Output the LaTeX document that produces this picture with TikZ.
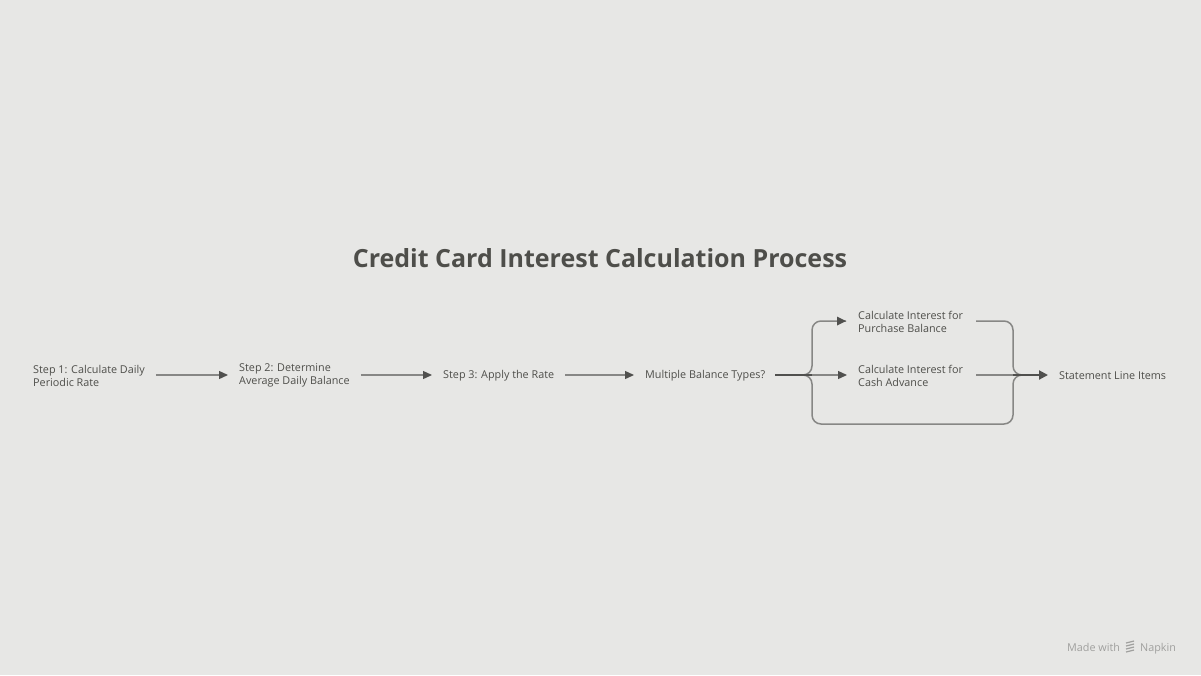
\documentclass[tikz,border=0pt]{standalone}
\usepackage{fontspec}
\setmainfont{Open Sans}
\usepackage{tikz}
\usetikzlibrary{arrows.meta,positioning}
\definecolor{cibg}{RGB}{231,231,229}
\definecolor{citext}{RGB}{78,78,74}
\definecolor{ciline}{RGB}{135,135,133}
\definecolor{cidark}{RGB}{80,80,78}
\definecolor{cilogo}{RGB}{160,160,158}
\tikzset{
  stepnode/.style={anchor=west, inner sep=0pt, align=left, text=citext, font=\fontsize{10.8}{13}\selectfont},
  flow/.style={ciline, line width=1.3pt, -{Triangle[length=9pt,width=8pt,color=cidark]}, shorten <=11pt, shorten >=11pt},
  brace/.style={ciline, line width=1.5pt, rounded corners=9pt},
  thickflow/.style={cidark, line width=2pt},
  footnote/.style={anchor=base west, inner sep=0pt, text=cilogo, font=\fontsize{10.8}{13}\selectfont}
}
\begin{document}
\begin{tikzpicture}[x=1pt, y=-1pt]
\fill[cibg] (0,0) rectangle (1201,675);
\useasboundingbox (0,0) rectangle (1201,675);

% Title
\node[text=citext, font=\fontsize{25}{29}\bfseries] (title) at (600,258) {Credit Card Interest Calculation Process};

% Main steps
\node[stepnode] (step1) at (33,375.5) {Step 1: Calculate Daily\\Periodic Rate};
\node[stepnode] (step2) at (239,375.5) {Step 2: Determine\\Average Daily Balance};
\node[stepnode] (step3) at (443,375.5) {Step 3: Apply the Rate};
\node[stepnode] (multi) at (645,375.5) {Multiple Balance Types?};

% Branches
\node[stepnode] (purch) at (858,321.5) {Calculate Interest for\\Purchase Balance};
\node[stepnode] (cash) at (858,375.5) {Calculate Interest for\\Cash Advance};
\node[stepnode] (stmt) at (1059,375.5) {Statement Line Items};

\coordinate (fork) at (812,375);
\coordinate (join) at (1013,375);

% Connect steps
\draw[flow] (step1.east |- fork) -- (step2.west |- fork);
\draw[flow] (step2.east |- fork) -- (step3.west |- fork);
\draw[flow] (step3.east |- fork) -- (multi.west |- fork);

% Split and merge
\draw[brace] ([xshift=10pt]multi.east |- fork) -| (812,321) -- (846,321);
\draw[brace] ([xshift=10pt]multi.east |- fork) -| (812,424) -| (join) -- (1030,375);
\draw[brace] (976,321) -| (join) -- (1030,375);
\draw[flow, shorten <=0pt] (fork) -- (cash.west |- fork);
\draw[ciline, line width=1.3pt] (976,375) -- (join);
\draw[thickflow] ([xshift=10pt]multi.east |- fork) -- (fork);
\fill[cidark] (846,321) ++(-9,-4.5) -- ++(9,4.5) -- ++(-9,4.5) -- cycle;
\draw[thickflow, -{Triangle[length=9pt,width=9pt]}] (join) -- ([xshift=-11pt]stmt.west |- fork);

% Footer
\node[footnote] (napkin) at (1140,651) {Napkin};
\node[footnote] (made) at (1067,651) {Made with};
\foreach \dy in {-4,-1,2,5}
  \draw[cilogo, line width=1.2pt] (1126,647+\dy) -- (1134,647+\dy-2);
\end{tikzpicture}
\end{document}
